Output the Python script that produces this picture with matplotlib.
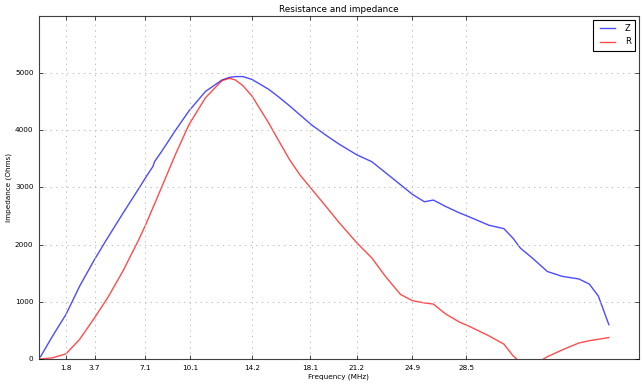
import numpy as np
import matplotlib
matplotlib.use("Agg")
import matplotlib.pyplot as plt

plt.style.use("classic")

freq = [0.1, 0.9, 1.8, 2.7, 3.7, 4.6, 5.6, 6.6, 7.1, 7.6, 7.7, 8.2, 9.1, 10.0,
        11.1, 12.2, 12.7, 13.1, 13.6, 14.2, 15.3, 16.0, 16.7, 17.4, 18.2, 19.1,
        20.0, 21.2, 22.2, 23.1, 24.1, 24.9, 25.7, 26.3, 27.1, 28.0, 28.7, 30.0,
        31.0, 31.6, 32.1, 32.9, 33.9, 34.9, 36.0, 36.7, 37.3, 38.0]

z_vals = [40, 400, 780, 1270, 1740, 2130, 2550, 2960, 3170, 3370, 3450, 3640,
          4000, 4340, 4680, 4880, 4925, 4940, 4940, 4890, 4720, 4580, 4430,
          4270, 4090, 3920, 3760, 3570, 3450, 3260, 3050, 2880, 2750, 2780,
          2670, 2560, 2485, 2340, 2280, 2115, 1940, 1765, 1530, 1445, 1400,
          1310, 1100, 600]

r_vals = [0, 20, 90, 340, 720, 1080, 1540, 2060, 2340, 2650, 2710, 3020,
          3580, 4100, 4570, 4870, 4910, 4880, 4780, 4600, 4135, 3810, 3490,
          3220, 2965, 2680, 2390, 2030, 1765, 1445, 1130, 1020, 980, 960,
          790, 650, 570, 405, 260, 60, -60, -120, 40, 160, 280, 320, 345, 375]

# amateur band markers
band_ticks = [1.8, 3.7, 7.1, 10.1, 14.2, 18.1, 21.2, 24.9, 28.5]
band_labels = ["1.8", "3.7", "7.1", "10.1", "14.2", "18.1", "21.2", "24.9", "28.5"]

fig = plt.figure(figsize=(6.44, 3.87), dpi=100, facecolor="white")
ax = fig.add_axes([0.0606, 0.0724, 0.9314, 0.8863])

ax.plot(freq, z_vals, color="b", alpha=0.7, lw=1.0, label="Z")
ax.plot(freq, r_vals, color="r", alpha=0.7, lw=1.0, label="R")

ax.set_xlim(0, 40)
ax.set_ylim(0, 6000)
ax.set_xticks(band_ticks)
ax.set_xticklabels(band_labels)
ax.set_yticks(np.arange(0, 6000, 1000))
ax.tick_params(labelsize=5.2, length=3, width=0.5)
for s in ax.spines.values():
    s.set_linewidth(0.8)
    s.set_color("0.25")

ax.grid(True, color="0.75", linestyle=":", linewidth=0.7)

ax.set_title("Resistance and impedance", fontsize=6.4, pad=3)
ax.set_xlabel("Frequency (MHz)", fontsize=5.2, labelpad=2)
ax.set_ylabel("Impedance (Ohms)", fontsize=5.2, labelpad=2)

leg = ax.legend(loc="upper right", fontsize=6, handlelength=2.5,
                borderpad=0.5, labelspacing=0.5, handletextpad=0.8)
leg.get_frame().set_linewidth(0.8)

fig.savefig("out.png", dpi=100, facecolor="white")
